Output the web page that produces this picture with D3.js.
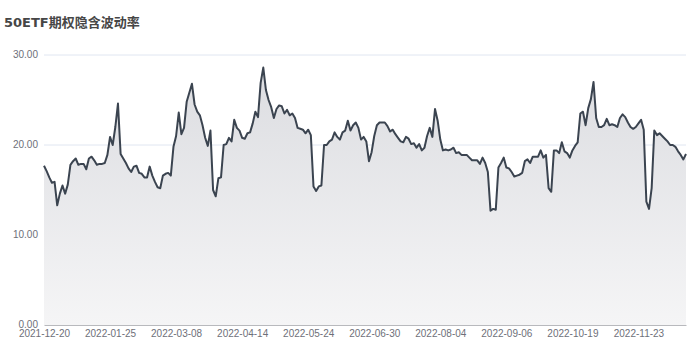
<!DOCTYPE html>
<html>
<head>
<meta charset="utf-8">
<script src="https://cdn.jsdelivr.net/npm/d3@7"></script>
<style>
  body { margin: 0; background: #fff; }
  svg { font-family: "DejaVu Sans", "Noto Sans CJK SC", sans-serif; }
</style>
</head>
<body>
<svg width="700" height="350"></svg>
<script>
// implied volatility, one value per trading day (2021-12-20 ..)
var values = [
  17.7, 17.1, 16.4, 15.8, 15.9, 13.3, 14.6, 15.5, 14.6, 15.6,
  17.8, 18.2, 18.5, 17.8, 17.9, 17.9, 17.3, 18.5, 18.7, 18.3,
  17.8, 17.9, 17.9, 18.0, 18.9, 20.9, 20.0, 22.0, 24.6, 19.0,
  18.5, 18.0, 17.4, 17.0, 17.6, 17.7, 16.9, 16.8, 16.4, 16.4,
  17.6, 16.6, 15.9, 15.3, 15.2, 16.6, 16.8, 16.9, 16.6, 19.8,
  21.0, 23.6, 21.2, 21.9, 24.8, 25.8, 26.8, 24.5, 23.7, 23.3,
  22.2, 20.8, 19.9, 21.6, 15.0, 14.3, 16.3, 16.4, 20.0, 20.1,
  20.8, 20.4, 22.8, 21.9, 21.6, 20.8, 20.7, 21.3, 21.4, 22.4,
  23.7, 23.1, 26.9, 28.6, 26.1, 25.0, 24.2, 23.0, 24.0, 24.4,
  24.3, 23.5, 23.9, 23.3, 23.5, 23.0, 21.9, 21.8, 21.7, 21.3,
  21.7, 21.1, 15.4, 14.9, 15.4, 15.5, 20.0, 20.0, 20.4, 20.6,
  21.4, 20.9, 20.6, 21.4, 21.6, 22.7, 21.6, 22.2, 22.5, 21.9,
  20.6, 20.9, 20.4, 18.2, 19.2, 21.0, 22.2, 22.5, 22.5, 22.5,
  22.1, 21.5, 21.7, 21.2, 20.8, 20.4, 20.3, 20.9, 20.7, 20.1,
  20.2, 19.7, 20.1, 19.4, 19.7, 21.0, 21.9, 20.9, 24.0, 22.7,
  20.6, 19.4, 19.5, 19.4, 19.5, 19.7, 19.1, 19.2, 18.9, 18.9,
  18.9, 18.6, 18.3, 18.3, 18.3, 17.9, 18.6, 18.0, 17.0, 12.7,
  12.9, 12.8, 17.5, 18.0, 18.6, 17.5, 17.4, 17.0, 16.5, 16.6,
  16.7, 16.9, 18.2, 18.4, 18.0, 18.7, 18.7, 18.7, 19.4, 18.6,
  18.9, 15.2, 14.8, 19.4, 19.4, 19.1, 20.3, 19.3, 19.1, 18.6,
  19.4, 19.9, 20.3, 23.5, 23.7, 22.2, 24.1, 25.1, 27.0, 23.0,
  22.0, 22.0, 22.2, 22.9, 22.2, 22.3, 22.2, 22.0, 23.0, 23.4,
  23.1, 22.5, 22.0, 21.8, 22.0, 22.4, 22.8, 21.7, 13.7, 12.9,
  15.2, 21.6, 21.1, 21.3, 21.0, 20.7, 20.4, 20.0, 20.0, 19.8,
  19.3, 18.9, 18.4, 19.0
];

// every 25th trading day gets a label
var tickStep = 25;
var tickLabels = ["2021-12-20", "2022-01-25", "2022-03-08", "2022-04-14", "2022-05-24",
                  "2022-06-30", "2022-08-04", "2022-09-06", "2022-10-19", "2022-11-23"];
var yTicks = [0, 10, 20, 30];

var svg = d3.select("svg"),
    margin = {top: 55, right: 14, bottom: 25, left: 44},
    width = +svg.attr("width") - margin.left - margin.right,
    height = +svg.attr("height") - margin.top - margin.bottom;

svg.append("text")
    .attr("x", 4)
    .attr("y", 27)
    .attr("fill", "#464646")
    .style("font-size", "13px")
    .style("font-weight", "bold")
    .text("50ETF期权隐含波动率");

var g = svg.append("g").attr("transform", "translate(" + margin.left + "," + margin.top + ")");

var x = d3.scaleLinear().domain([0, values.length - 1]).range([0, width]);
var y = d3.scaleLinear().domain([0, 30]).range([height, 0]);

var defs = svg.append("defs");
var grad = defs.append("linearGradient")
    .attr("id", "areaGrad")
    .attr("x1", 0).attr("y1", 0).attr("x2", 0).attr("y2", 1);
grad.append("stop").attr("offset", "0%").attr("stop-color", "#dcdde1");
grad.append("stop").attr("offset", "100%").attr("stop-color", "#f5f5f6");

// grid lines
g.append("g")
  .selectAll("line")
  .data(yTicks.slice(1))
  .enter().append("line")
    .attr("x1", 0).attr("x2", width)
    .attr("y1", d => y(d)).attr("y2", d => y(d))
    .attr("stroke", "#e0e6f1");

var area = d3.area()
    .x((d, i) => x(i))
    .y0(height)
    .y1(d => y(d));

var line = d3.line()
    .x((d, i) => x(i))
    .y(d => y(d));

g.append("path")
    .datum(values)
    .attr("fill", "url(#areaGrad)")
    .attr("d", area);

g.append("path")
    .datum(values)
    .attr("fill", "none")
    .attr("stroke", "#3b4450")
    .attr("stroke-width", 2)
    .attr("stroke-linejoin", "round")
    .attr("d", line);

// y axis
var yAxis = g.append("g")
    .call(d3.axisLeft(y).tickValues(yTicks).tickFormat(d3.format(".2f")).tickSize(0).tickPadding(6));
yAxis.select(".domain").remove();
yAxis.selectAll("text").attr("fill", "#6e7079").attr("dy", "0.2em");

// x axis
var xAxis = g.append("g")
    .attr("transform", "translate(0," + height + ")")
    .call(d3.axisBottom(x)
      .tickValues(d3.range(0, values.length, tickStep))
      .tickFormat(i => tickLabels[i / tickStep])
      .tickSize(0).tickPadding(5));
xAxis.select(".domain").attr("stroke", "#b8b9bd");
xAxis.selectAll("text").attr("fill", "#6e7079");
</script>
</body>
</html>
